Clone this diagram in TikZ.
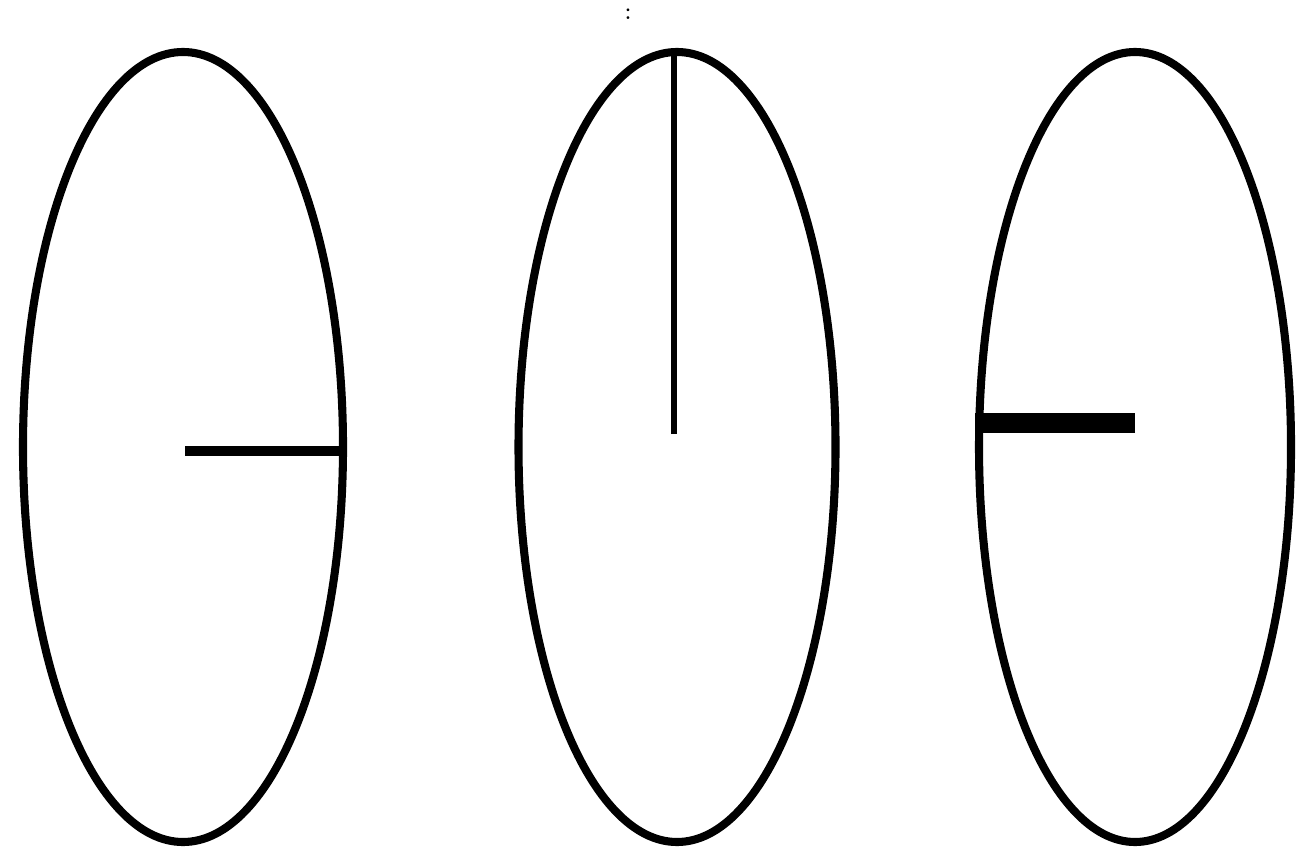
\documentclass[tikz,border=0pt]{standalone}
\usepackage{xcolor}
\usepackage{tikz}
\usetikzlibrary{positioning,shapes.geometric,calc}
\tikzset{
  dial/.style={ellipse, draw=black, line width=2.3pt, inner sep=0pt,
               minimum width=3.2cm, minimum height=7.9cm},
  hand/.style={draw=black, line cap=butt},
  sep/.style={font=\scriptsize, inner sep=1pt}
}

\begin{document}
\begin{tikzpicture}
        \useasboundingbox (0,0) rectangle (12.97,8.54);
        \node[dial] (d1) at (1.83,4.07) {};
        \node[dial, minimum width=3.17cm] (d2) at (6.77,4.07) {};
        \node[dial, minimum width=3.12cm] (d3) at (11.35,4.07) {};
        \node[sep] (colon) at (6.28,8.40) {:};
        \coordinate (h1) at ($(d1.center)+(0.02,-0.04)$);
        \coordinate (h2) at ($(d2.center)+(-0.03,0.13)$);
        \coordinate (h3) at ($(d3.center)+(0,0.24)$);
        \draw[hand, line width=2.8pt] (h1) -- (h1 -| d1.east);
        \draw[hand, line width=1.7pt] (h2) -- (h2 |- d2.north);
        \draw[hand, line width=5.6pt] (h3) -- (h3 -| d3.west);
      \end{tikzpicture}
\end{document}
